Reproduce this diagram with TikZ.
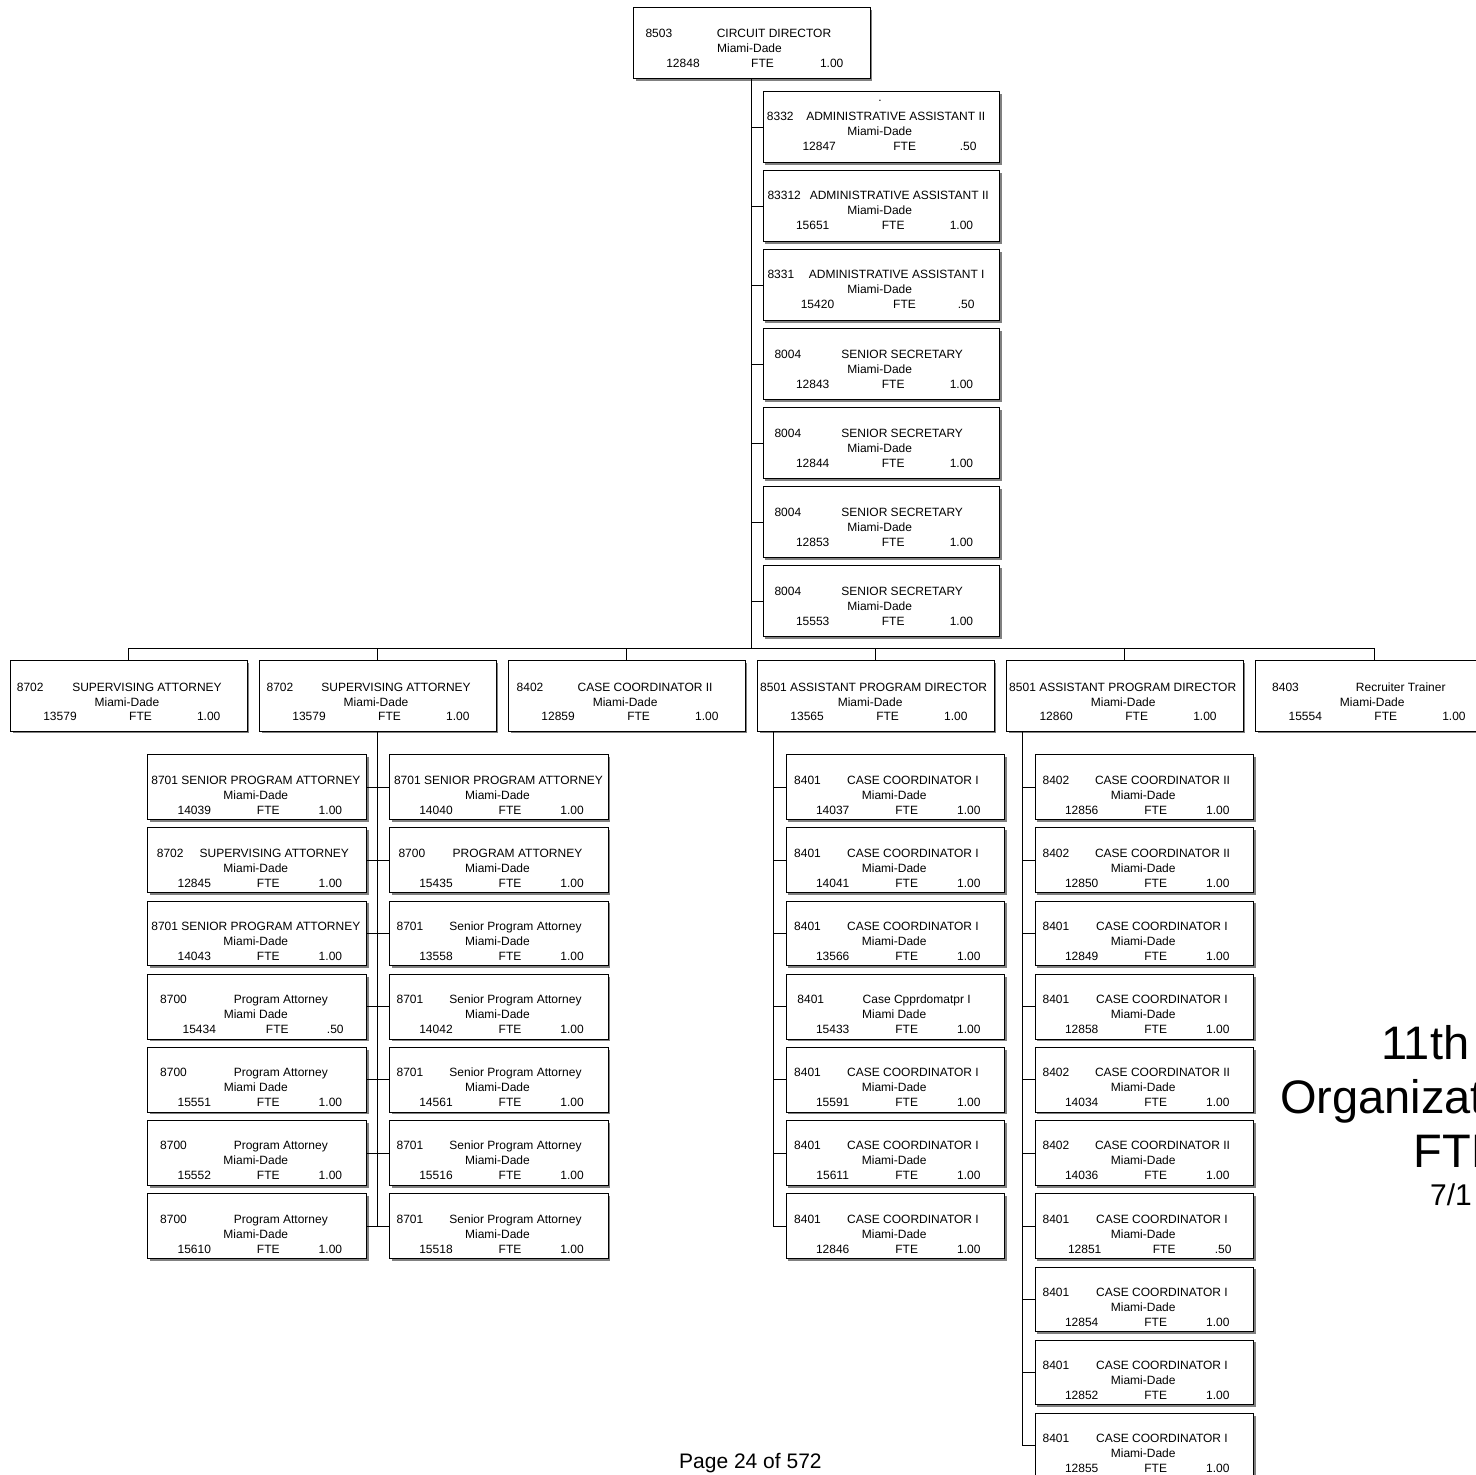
\documentclass[tikz,border=0pt]{standalone}
\usepackage{fontspec}
\setmainfont{Liberation Sans}
\usetikzlibrary{shadows}

% geometry of one position box: size, text positions (x from left edge, baselines from top edge)
\pgfkeys{/org/.cd,
  w/.initial=236.5, h/.initial=71,
  code/.initial=8, title/.initial=137, sub/.initial=117,
  num/.initial=50, fte/.initial=130.5, val/.initial=210.6,
  la/.initial=29.8, lb/.initial=44.8, lc/.initial=59.8,
  tight/.initial=0,
  upper/.style={w=236.5, h=71},
  lvl/.style={w=236.5, h=70.7, la=31, lb=46, lc=60.3},
  low/.style={w=218.5, h=64.7, code=8.5, title=127.5, sub=108.5, num=47, fte=121, val=195},
  half/.style={num=52, fte=130, val=196.5},
}

\tikzset{
  orgframe/.style={draw=black, line width=1pt, fill=white, rectangle, inner sep=0pt,
    drop shadow={shadow xshift=2.2pt, shadow yshift=-2.2pt, fill=black!50, opacity=1}},
  orgtxt/.style={inner sep=0pt, font=\fontsize{12}{14}\selectfont},
  wire/.style={draw=black, line width=1pt},
  bigtxt/.style={inner sep=0pt, font=\fontsize{47}{54}\selectfont},
}

% \orgbox[options]{name}{x}{y}{code}{title}{area}{position no.}{fte}
\newcommand\orgbox[9][]{%
  \begingroup
  \pgfkeys{/org/.cd,#1}%
  \node[orgframe, minimum width=\pgfkeysvalueof{/org/w}pt,
        minimum height=\pgfkeysvalueof{/org/h}pt, anchor=north west] (#2) at (#3,#4) {};
  \ifnum\pgfkeysvalueof{/org/tight}=1
    \node[orgtxt, anchor=base] (#2-t) at ([shift={(\pgfkeysvalueof{/org/title},\pgfkeysvalueof{/org/la})}]#2.north west) {#5 #6};
  \else
    \node[orgtxt, anchor=base west] (#2-c) at ([shift={(\pgfkeysvalueof{/org/code},\pgfkeysvalueof{/org/la})}]#2.north west) {#5};
    \node[orgtxt, anchor=base] (#2-t) at ([shift={(\pgfkeysvalueof{/org/title},\pgfkeysvalueof{/org/la})}]#2.north west) {#6};
  \fi
  \node[orgtxt, anchor=base] (#2-s) at ([shift={(\pgfkeysvalueof{/org/sub},\pgfkeysvalueof{/org/lb})}]#2.north west) {#7};
  \node[orgtxt, anchor=base] (#2-n) at ([shift={(\pgfkeysvalueof{/org/num},\pgfkeysvalueof{/org/lc})}]#2.north west) {#8};
  \node[orgtxt, anchor=base] (#2-f) at ([shift={(\pgfkeysvalueof{/org/fte},\pgfkeysvalueof{/org/lc})}]#2.north west) {FTE};
  \node[orgtxt, anchor=base east] (#2-v) at ([shift={(\pgfkeysvalueof{/org/val},\pgfkeysvalueof{/org/lc})}]#2.north west) {#9};
  \endgroup
}

\begin{document}
\begin{tikzpicture}[x=1pt, y=-1pt]
\useasboundingbox (0,0) rectangle (1476,1475);
\clip (0,0) rectangle (1476,1475);
\fill[white] (0,0) rectangle (1476,1475);

% ---- director
\orgbox[upper, code=12.3, title=141, sub=116.5, fte=129.5]{top}{633}{7.3}{8503}{CIRCUIT DIRECTOR}{Miami-Dade}{12848}{1.00}

% ---- office staff
\orgbox[upper, code=4, title=133, num=56.5, fte=142, val=214]{a1}{762.7}{91}{8332}{ADMINISTRATIVE ASSISTANT II}{Miami-Dade}{12847}{.50}
\node[orgtxt, anchor=base] (a1-dot) at (880,101) {.};
\orgbox[upper, code=4.6, title=136.5]{a2}{762.7}{170.07}{83312}{ADMINISTRATIVE ASSISTANT II}{Miami-Dade}{15651}{1.00}
\orgbox[upper, code=4.6, title=134, num=54.8, fte=141.8, val=212]{a3}{762.7}{249.14}{8331}{ADMINISTRATIVE ASSISTANT I}{Miami-Dade}{15420}{.50}
\orgbox[upper, code=11.6, title=139.5]{a4}{762.7}{328.21}{8004}{SENIOR SECRETARY}{Miami-Dade}{12843}{1.00}
\orgbox[upper, code=11.6, title=139.5]{a5}{762.7}{407.28}{8004}{SENIOR SECRETARY}{Miami-Dade}{12844}{1.00}
\orgbox[upper, code=11.6, title=139.5]{a6}{762.7}{486.35}{8004}{SENIOR SECRETARY}{Miami-Dade}{12853}{1.00}
\orgbox[upper, code=11.6, title=139.5]{a7}{762.7}{565.42}{8004}{SENIOR SECRETARY}{Miami-Dade}{15553}{1.00}

% ---- second level
\orgbox[lvl, code=6.7]{b1}{10}{660}{8702}{SUPERVISING ATTORNEY}{Miami-Dade}{13579}{1.00}
\orgbox[lvl, code=7.4]{b2}{259.05}{660}{8702}{SUPERVISING ATTORNEY}{Miami-Dade}{13579}{1.00}
\orgbox[lvl, code=8.4]{b3}{508.1}{660}{8402}{CASE COORDINATOR II}{Miami-Dade}{12859}{1.00}
\orgbox[lvl, tight=1, title=116.5, sub=113]{b4}{757.15}{660}{8501}{ASSISTANT PROGRAM DIRECTOR}{Miami-Dade}{13565}{1.00}
\orgbox[lvl, tight=1, title=116.5]{b5}{1006.2}{660}{8501}{ASSISTANT PROGRAM DIRECTOR}{Miami-Dade}{12860}{1.00}
\orgbox[lvl, code=16.7, title=145.5]{b6}{1255.25}{660}{8403}{Recruiter Trainer}{Miami-Dade}{15554}{1.00}

% ---- attorneys, left column
\orgbox[low, tight=1, title=108.5]{p1}{147.3}{754.3}{8701}{SENIOR PROGRAM ATTORNEY}{Miami-Dade}{14039}{1.00}
\orgbox[low, code=9.4, title=127]{p2}{147.3}{827.47}{8702}{SUPERVISING ATTORNEY}{Miami-Dade}{12845}{1.00}
\orgbox[low, tight=1, title=108.5]{p3}{147.3}{900.64}{8701}{SENIOR PROGRAM ATTORNEY}{Miami-Dade}{14043}{1.00}
\orgbox[low, half, code=12.7, title=133.5]{p4}{147.3}{973.81}{8700}{Program Attorney}{Miami Dade}{15434}{.50}
\orgbox[low, code=12.7, title=133.5]{p5}{147.3}{1046.98}{8700}{Program Attorney}{Miami Dade}{15551}{1.00}
\orgbox[low, code=12.7, title=133.5]{p6}{147.3}{1120.15}{8700}{Program Attorney}{Miami-Dade}{15552}{1.00}
\orgbox[low, code=12.7, title=133.5]{p7}{147.3}{1193.32}{8700}{Program Attorney}{Miami-Dade}{15610}{1.00}

% ---- attorneys, right column
\orgbox[low, tight=1, title=109.5]{q1}{389}{754.3}{8701}{SENIOR PROGRAM ATTORNEY}{Miami-Dade}{14040}{1.00}
\orgbox[low, code=9.3, title=128.5]{q2}{389}{827.47}{8700}{PROGRAM ATTORNEY}{Miami-Dade}{15435}{1.00}
\orgbox[low, code=7.4, title=126.5]{q3}{389}{900.64}{8701}{Senior Program Attorney}{Miami-Dade}{13558}{1.00}
\orgbox[low, code=7.4, title=126.5]{q4}{389}{973.81}{8701}{Senior Program Attorney}{Miami-Dade}{14042}{1.00}
\orgbox[low, code=7.4, title=126.5]{q5}{389}{1046.98}{8701}{Senior Program Attorney}{Miami-Dade}{14561}{1.00}
\orgbox[low, code=7.4, title=126.5]{q6}{389}{1120.15}{8701}{Senior Program Attorney}{Miami-Dade}{15516}{1.00}
\orgbox[low, code=7.4, title=126.5]{q7}{389}{1193.32}{8701}{Senior Program Attorney}{Miami-Dade}{15518}{1.00}

% ---- case coordinators under 13565
\orgbox[low, code=8.3, title=127.3]{c1}{785.7}{754.3}{8401}{CASE COORDINATOR I}{Miami-Dade}{14037}{1.00}
\orgbox[low, code=8.3, title=127.3]{c2}{785.7}{827.47}{8401}{CASE COORDINATOR I}{Miami-Dade}{14041}{1.00}
\orgbox[low, code=8.3, title=127.3]{c3}{785.7}{900.64}{8401}{CASE COORDINATOR I}{Miami-Dade}{13566}{1.00}
\orgbox[low, code=11.5, title=131]{c4}{785.7}{973.81}{8401}{Case Cpprdomatpr I}{Miami Dade}{15433}{1.00}
\orgbox[low, code=8.3, title=127.3]{c5}{785.7}{1046.98}{8401}{CASE COORDINATOR I}{Miami-Dade}{15591}{1.00}
\orgbox[low, code=8.3, title=127.3]{c6}{785.7}{1120.15}{8401}{CASE COORDINATOR I}{Miami-Dade}{15611}{1.00}
\orgbox[low, code=8.3, title=127.3]{c7}{785.7}{1193.32}{8401}{CASE COORDINATOR I}{Miami-Dade}{12846}{1.00}

% ---- case coordinators under 12860
\orgbox[low, code=7.7, title=127.8]{d1}{1034.7}{754.3}{8402}{CASE COORDINATOR II}{Miami-Dade}{12856}{1.00}
\orgbox[low, code=7.7, title=127.8]{d2}{1034.7}{827.47}{8402}{CASE COORDINATOR II}{Miami-Dade}{12850}{1.00}
\orgbox[low, code=7.7, title=127.3]{d3}{1034.7}{900.64}{8401}{CASE COORDINATOR I}{Miami-Dade}{12849}{1.00}
\orgbox[low, code=7.7, title=127.3]{d4}{1034.7}{973.81}{8401}{CASE COORDINATOR I}{Miami-Dade}{12858}{1.00}
\orgbox[low, code=7.7, title=127.8]{d5}{1034.7}{1046.98}{8402}{CASE COORDINATOR II}{Miami-Dade}{14034}{1.00}
\orgbox[low, code=7.7, title=127.8]{d6}{1034.7}{1120.15}{8402}{CASE COORDINATOR II}{Miami-Dade}{14036}{1.00}
\orgbox[low, half, num=50, fte=129.5, val=197, code=7.7, title=127.3]{d7}{1034.7}{1193.32}{8401}{CASE COORDINATOR I}{Miami-Dade}{12851}{.50}
\orgbox[low, code=7.7, title=127.3]{d8}{1034.7}{1266.49}{8401}{CASE COORDINATOR I}{Miami-Dade}{12854}{1.00}
\orgbox[low, code=7.7, title=127.3]{d9}{1034.7}{1339.66}{8401}{CASE COORDINATOR I}{Miami-Dade}{12852}{1.00}
\orgbox[low, code=7.7, title=127.3]{d10}{1034.7}{1412.83}{8401}{CASE COORDINATOR I}{Miami-Dade}{12855}{1.00}

% ---- reporting lines
\coordinate (bus) at (0,648.3);
\draw[wire] (top.south) -- (top.south |- bus);
\draw[wire] (b1.north) |- (b6.north |- bus) -- (b6.north);
\foreach \k in {2,3,4,5} \draw[wire] (b\k.north) -- (b\k.north |- bus);
\foreach \k in {1,...,7} \draw[wire] (a\k.west) -- (a\k.west -| top.south);

\draw[wire] (b2.south) -- (b2.south |- p7.east);
\foreach \k in {1,...,7} \draw[wire] (p\k.east) -- (q\k.west);

\coordinate (k4) at ([xshift=16.8pt]b4.south west);
\draw[wire] (k4) |- (c7.west);
\foreach \k in {1,...,6} \draw[wire] (c\k.west) -- (c\k.west -| k4);

\coordinate (k5) at ([xshift=16.7pt]b5.south west);
\draw[wire] (k5) |- (d10.west);
\foreach \k in {1,...,9} \draw[wire] (d\k.west) -- (d\k.west -| k5);

% ---- heading and page number
\node[bigtxt, anchor=base west] (hd1) at (1381,1059.5) {11th};
\node[bigtxt, anchor=base west] (hd2) at (1280,1113) {Organizat};
\node[bigtxt, anchor=base west] (hd3) at (1413.5,1167) {FTE};
\node[inner sep=0pt, font=\fontsize{30}{34}\selectfont, anchor=base west] (hd4) at (1430,1205) {7/1};
\node[inner sep=0pt, font=\fontsize{21}{25}\selectfont, anchor=base west] (pg) at (679,1468) {Page 24 of 572};
\end{tikzpicture}
\end{document}
